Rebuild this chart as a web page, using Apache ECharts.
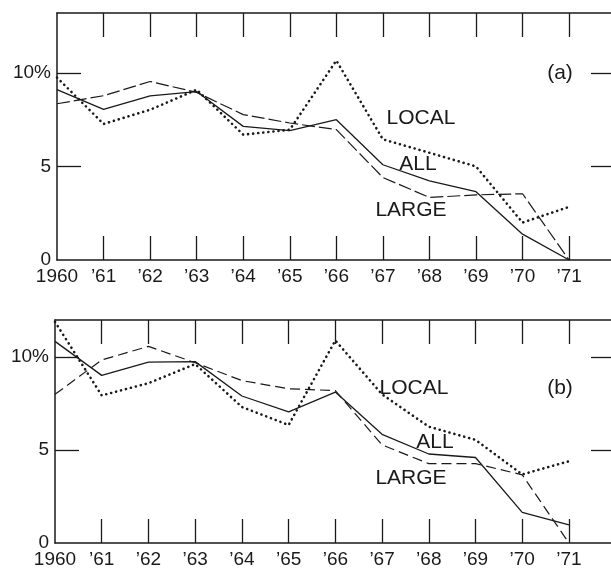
<!DOCTYPE html>
<html>
<head>
<meta charset="utf-8">
<script src="https://cdn.jsdelivr.net/npm/echarts@6/dist/echarts.min.js"></script>
<style>
  html, body { margin: 0; padding: 0; background: #fff; }
  #chart { width: 611px; height: 569px; }
</style>
</head>
<body>
<div id="chart"></div>
<script>
// years on the x axis
var years = [1960, 1961, 1962, 1963, 1964, 1965, 1966, 1967, 1968, 1969, 1970, 1971];
var yTicks = [0, 5, 10];

// panel (a)
var aAll   = [9.1, 8.05, 8.77, 9.0, 7.14, 6.91, 7.5, 5.09, 4.23, 3.65, 1.38, 0];
var aLarge = [8.35, 8.78, 9.54, 8.96, 7.77, 7.32, 6.97, 4.41, 3.34, 3.48, 3.54, 0];
var aLocal = [9.75, 7.27, 8.03, 9.1, 6.7, 6.96, 10.66, 6.45, 5.73, 5.0, 2.0, 2.84];

// panel (b)
var bAll   = [10.85, 9.02, 9.73, 9.76, 7.91, 7.06, 8.12, 5.85, 4.79, 4.6, 1.65, 0.98];
var bLarge = [8.0, 9.85, 10.58, 9.7, 8.74, 8.3, 8.2, 5.28, 4.27, 4.27, 3.67, 0];
var bLocal = [11.9, 7.94, 8.6, 9.63, 7.32, 6.35, 10.9, 8.0, 6.26, 5.55, 3.69, 4.4];

var ink = '#1a1a1a';
var font = 'Liberation Sans, Arial, Helvetica, sans-serif';

function pairs(vals) {
  return vals.map(function (v, i) { return [years[i], v]; });
}

function yearLabel(v) {
  return v === 1960 ? '1960' : '\u2019' + String(v).slice(2);
}

// bottom axis with labels + inward ticks
function xBottom(grid) {
  return {
    type: 'value', gridIndex: grid, position: 'bottom',
    min: 1960, max: 1971.9,
    axisLine: { show: true, onZero: false, lineStyle: { color: ink, width: 1.5 } },
    axisTick: { show: true, inside: true, length: 24, customValues: years.slice(1), lineStyle: { color: ink, width: 1.3 } },
    axisLabel: { show: true, customValues: years, formatter: yearLabel, margin: 7, color: ink, fontSize: 19, fontFamily: font },
    splitLine: { show: false }
  };
}
// top border with inward ticks
function xTop(grid) {
  return {
    type: 'value', gridIndex: grid, position: 'top',
    min: 1960, max: 1971.9,
    axisLine: { show: true, onZero: false, lineStyle: { color: ink, width: 1.5 } },
    axisTick: { show: true, inside: true, length: 24, customValues: years.slice(1), lineStyle: { color: ink, width: 1.3 } },
    axisLabel: { show: false },
    splitLine: { show: false }
  };
}
function yLeft(grid, max) {
  return {
    type: 'value', gridIndex: grid, position: 'left',
    min: 0, max: max,
    axisLine: { show: true, onZero: false, lineStyle: { color: ink, width: 1.5 } },
    axisTick: { show: true, inside: true, length: 24, customValues: [5, 10], lineStyle: { color: ink, width: 1.3 } },
    axisLabel: {
      show: true, customValues: yTicks, margin: 6, color: ink, fontSize: 19, fontFamily: font,
      formatter: function (v) { return v === 10 ? '10%' : String(v); }
    },
    splitLine: { show: false }
  };
}
function yRight(grid, max) {
  return {
    type: 'value', gridIndex: grid, position: 'right',
    min: 0, max: max,
    axisLine: { show: false, onZero: false },
    axisTick: { show: true, inside: true, length: 20, customValues: [5, 10], lineStyle: { color: ink, width: 1.3 } },
    axisLabel: { show: false },
    splitLine: { show: false }
  };
}

function line(name, data, xi, yi, style) {
  return {
    name: name, type: 'line', xAxisIndex: xi, yAxisIndex: yi,
    data: pairs(data), symbol: 'none', silent: true,
    lineStyle: style
  };
}

var solid = { color: ink, width: 1.3, type: 'solid' };
var dashA = { color: ink, width: 1.2, type: [13, 4] };
var dashB = { color: ink, width: 1.2, type: [10, 5] };
var dots = { color: ink, width: 2.6, type: [0.1, 5], cap: 'round' };

function label(text, x, y) {
  return {
    type: 'text', x: x, y: y,
    style: { text: text, fill: ink, font: '21px ' + font, textAlign: 'center', textVerticalAlign: 'middle' }
  };
}

var chart = echarts.init(document.getElementById('chart'));
chart.setOption({
  animation: false,
  backgroundColor: '#fff',
  grid: [
    { left: 57, right: 0, top: 13, height: 247 },
    { left: 55, right: 0, top: 320, height: 226 }
  ],
  xAxis: [xBottom(0), xTop(0), xBottom(1), xTop(1)],
  yAxis: [yLeft(0, 13.2), yRight(0, 13.2), yLeft(1, 12), yRight(1, 12)],
  series: [
    line('ALL', aAll, 0, 0, solid),
    line('LARGE', aLarge, 0, 0, dashA),
    line('LOCAL', aLocal, 0, 0, dots),
    line('ALL', bAll, 2, 2, solid),
    line('LARGE', bLarge, 2, 2, dashB),
    line('LOCAL', bLocal, 2, 2, dots)
  ],
  graphic: [
    label('LOCAL', 421, 118),
    label('ALL', 418, 164),
    label('LARGE', 411, 210),
    label('(a)', 560, 73),
    label('LOCAL', 414, 388),
    label('ALL', 435, 442),
    label('LARGE', 411, 478),
    label('(b)', 560, 388)
  ]
});
</script>
</body>
</html>
